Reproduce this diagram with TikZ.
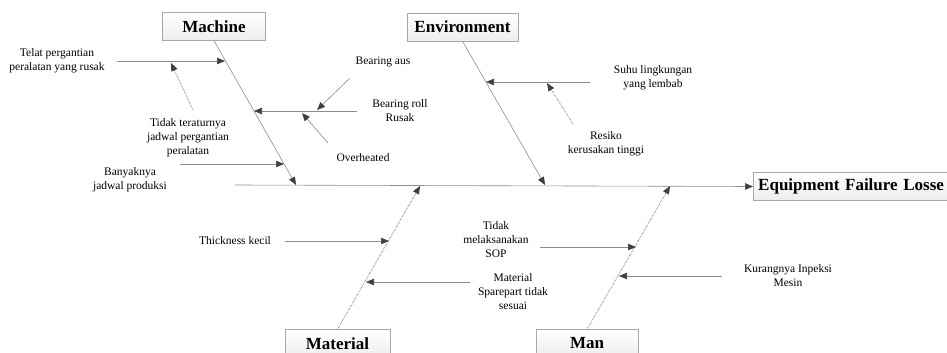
\documentclass[tikz,border=0pt]{standalone}
\usepackage{fontspec}
\setmainfont{Liberation Serif}
\usepackage{tikz}
\usetikzlibrary{arrows.meta,positioning,calc}
\definecolor{bone}{HTML}{8C8C8C}
\definecolor{tipgray}{HTML}{404040}
\definecolor{frame}{HTML}{A8A8A8}

\begin{document}
\begin{tikzpicture}[x=1pt,y=-1pt,
  font=\fontsize{11.5}{14}\selectfont,
  cat/.style={draw=frame,top color=white,bottom color=gray!14,inner sep=0pt,
    minimum height=28pt,font=\fontsize{17}{20}\selectfont\bfseries},
  cause/.style={align=center,inner sep=1pt},
  spine/.style={draw=bone,line width=0.6pt},
  arr/.style={-{Triangle[length=8pt,width=6.5pt,color=tipgray]},draw=bone,line width=0.6pt},
  darr/.style={arr,densely dotted,draw=gray!85!black,line width=0.8pt}]
\useasboundingbox (0,0) rectangle (947,353);
\clip (0,0) rectangle (947,353);
% category boxes
\node[cat,minimum width=103pt] (mach) at (214,26.5) {Machine};
\node[cat,minimum width=111pt] (env) at (462.5,27) {Environment};
\node[cat,minimum width=105pt] (mat) at (337.5,343.5) {Material};
\node[cat,minimum width=102pt] (man) at (587,343.5) {Man};
\node[cat,anchor=west,minimum width=200pt,text width=190pt,align=left] (eff) at (753,186.5) {Equipment Failure Losse};
% spine and bones
\coordinate (s0) at (235,185);
\draw[arr] (s0) -- (eff.west);
\coordinate (mb) at (296,185); \coordinate (eb) at (545,185);
\coordinate (tb) at (420,186); \coordinate (nb) at (670,186);
\draw[arr] (mach.south) -- (mb);
\draw[arr] (env.south) -- (eb);
\draw[darr] (mat.north) -- (tb);
\draw[darr] (man.north) -- (nb);
% machine causes
\coordinate (m1) at (225,61); \coordinate (m2) at (254,111); \coordinate (m3) at (284,164);
\node[cause] (telat) at (57,61) {Telat pergantian\\peralatan yang rusak};
\coordinate (telatA) at (117,61);
\draw[arr] (telatA) -- (m1);
\node[cause] (jadwal) at (188,138) {Tidak teraturnya\\jadwal pergantian\\peralatan};
\coordinate (jadwalA) at (193,110); \coordinate (jadwalB) at (171,63);
\draw[darr] (jadwalA) -- (jadwalB);
\node[cause] (roll) at (400,111) {Bearing roll\\Rusak};
\coordinate (rollA) at (357,111); \coordinate (rollB) at (317,110); \coordinate (rollC) at (302,113);
\draw[arr] (rollA) -- (m2);
\node[cause] (aus) at (383,62) {Bearing aus};
\coordinate (ausA) at (350,78);
\draw[arr] (ausA) -- (rollB);
\node[cause] (heat) at (363,158) {Overheated};
\coordinate (heatA) at (328,143);
\draw[arr] (heatA) -- (rollC);
\node[cause] (banyak) at (130,180) {Banyaknya\\jadwal produksi};
\coordinate (banyakA) at (180,164);
\draw[arr] (banyakA) -- (m3);
% environment causes
\coordinate (e1) at (486,82);
\node[cause] (suhu) at (653,78) {Suhu lingkungan\\yang lembab};
\coordinate (suhuA) at (590,82); \coordinate (suhuB) at (547,83);
\draw[arr] (suhuA) -- (e1);
\node[cause] (resiko) at (606,144) {Resiko\\kerusakan tinggi};
\coordinate (resikoA) at (573,124);
\draw[darr] (resikoA) -- (suhuB);
% material causes
\coordinate (t1) at (389,241); \coordinate (t2) at (366,282);
\node[cause] (thick) at (235,241) {Thickness kecil};
\coordinate (thickA) at (285,241);
\draw[arr] (thickA) -- (t1);
\node[cause] (spare) at (513,292) {Material\\Sparepart tidak\\sesuai};
\coordinate (spareA) at (470,282);
\draw[arr] (spareA) -- (t2);
% man causes
\coordinate (n1) at (636,247); \coordinate (n2) at (619,276);
\node[cause] (sop) at (496,240) {Tidak\\melaksanakan\\SOP};
\coordinate (sopA) at (540,247);
\draw[arr] (sopA) -- (n1);
\node[cause] (inspeksi) at (788,276) {Kurangnya Inpeksi\\Mesin};
\coordinate (inspeksiA) at (722,276);
\draw[arr] (inspeksiA) -- (n2);
\end{tikzpicture}
\end{document}
